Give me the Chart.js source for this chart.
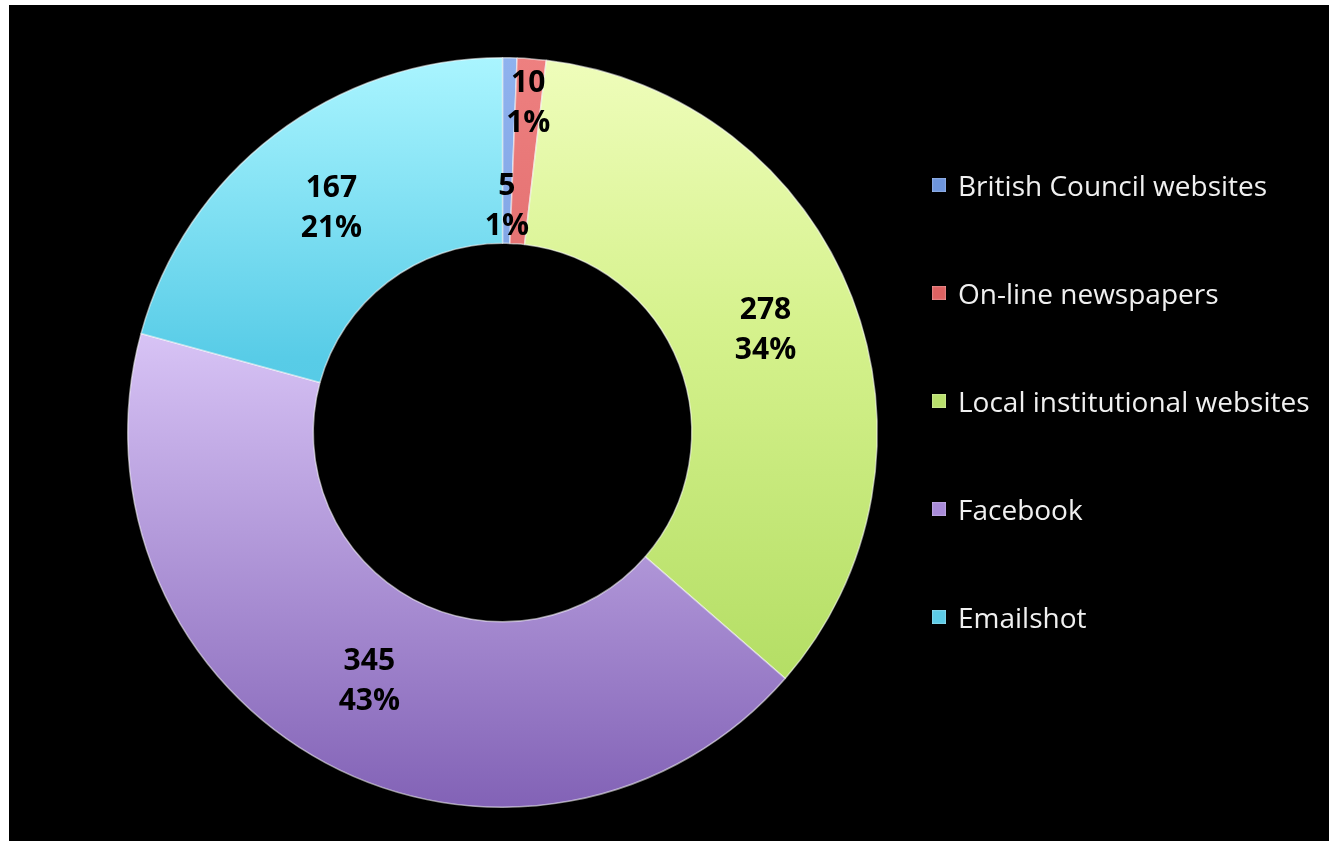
<!DOCTYPE html>
<html>
<head>
<meta charset="utf-8">
<script src="https://cdn.jsdelivr.net/npm/chart.js@4.4.1/dist/chart.umd.min.js"></script>
<style>
html,body{margin:0;padding:0;background:#fff;width:1329px;height:841px;overflow:hidden;}
#wrap{position:absolute;left:9px;top:5px;width:1320px;height:836px;background:#000;}
#legend{position:absolute;left:923px;top:0;}
.leg-item{position:absolute;left:0;display:flex;align-items:center;height:30px;white-space:nowrap;color:#f0f0f0;font:28px "Open Sans",sans-serif;}
.leg-box{width:14px;height:14px;margin-right:12px;flex:none;}
</style>
</head>
<body>
<div id="wrap">
  <canvas id="donut"></canvas>
  <div id="legend"></div>
</div>
<script>
// --- data ---
const categories = ["British Council websites","On-line newspapers","Local institutional websites","Facebook","Emailshot"];
const values = [5, 10, 278, 345, 167];
const percentLabels = ["1%","1%","34%","43%","21%"];

// --- styles ---
const sliceStops = [
  [[0,"#8fb2ee"],[1,"#5f86d0"]],
  [[0,"#ee8080"],[1,"#c94b4b"]],
  [[0,"#effdbb"],[0.35,"#d6f28e"],[1,"#a8d756"]],
  [[0,"#e6d6fb"],[0.35,"#dac6f7"],[1,"#8262b6"]],
  [[0,"#aaf5ff"],[0.4,"#58cce7"],[1,"#3fb6d6"]]
];
const legendColors = ["#6d95dc","#dd6262","#b9e06c","#a88ad8","#5ccbe6"];
const labelRadius = [0.2, 0.76, 0.5, 0.5, 0.5];

function sliceFill(c){
  const area=c.chart.chartArea;
  const stops=sliceStops[c.dataIndex];
  if(!area) return stops[0][1];
  const g=c.chart.ctx.createLinearGradient(0,area.top,0,area.bottom);
  stops.forEach(s=>g.addColorStop(s[0],s[1]));
  return g;
}

// value + percent inside each slice
const sliceLabels={
  id:"sliceLabels",
  afterDatasetsDraw(chart){
    const c=chart.ctx;
    const meta=chart.getDatasetMeta(0);
    c.save();
    c.fillStyle="#000";
    c.font="bold 30px 'Open Sans', sans-serif";
    c.textAlign="center";
    c.textBaseline="middle";
    meta.data.forEach((arc,i)=>{
      const p=arc.getProps(["x","y","startAngle","endAngle","innerRadius","outerRadius"],true);
      const a=(p.startAngle+p.endAngle)/2;
      const r=p.innerRadius+(p.outerRadius-p.innerRadius)*labelRadius[i];
      const x=p.x+Math.cos(a)*r, y=p.y+Math.sin(a)*r;
      c.fillText(String(values[i]),x,y-20);
      c.fillText(percentLabels[i],x,y+20);
    });
    c.restore();
  }
};

const ctx=document.getElementById("donut").getContext("2d");
const chart=new Chart(ctx,{
  type:"doughnut",
  data:{labels:categories,datasets:[{
    data:values,
    backgroundColor:sliceFill,
    borderColor:"rgba(255,255,255,0.55)",
    borderWidth:1.5
  }]},
  options:{
    responsive:true,
    maintainAspectRatio:false,
    animation:false,
    cutout:"50.5%",
    layout:{padding:{left:118,right:451,top:52,bottom:33}},
    plugins:{legend:{display:false},tooltip:{enabled:false}},
    events:[]
  },
  plugins:[sliceLabels]
});

// --- legend ---
function renderLegend(){
  const wrap=document.getElementById("legend");
  wrap.innerHTML="";
  categories.forEach((name,i)=>{
    const item=document.createElement("div");
    item.className="leg-item";
    item.style.top=(165+i*108)+"px";
    const box=document.createElement("span");
    box.className="leg-box";
    box.style.background=legendColors[i];
    box.style.boxShadow="inset 0 0 2px rgba(255,255,255,0.7)";
    item.appendChild(box);
    const t=document.createElement("span");
    t.textContent=name;
    item.appendChild(t);
    wrap.appendChild(item);
  });
}
renderLegend();
</script>
</body>
</html>
